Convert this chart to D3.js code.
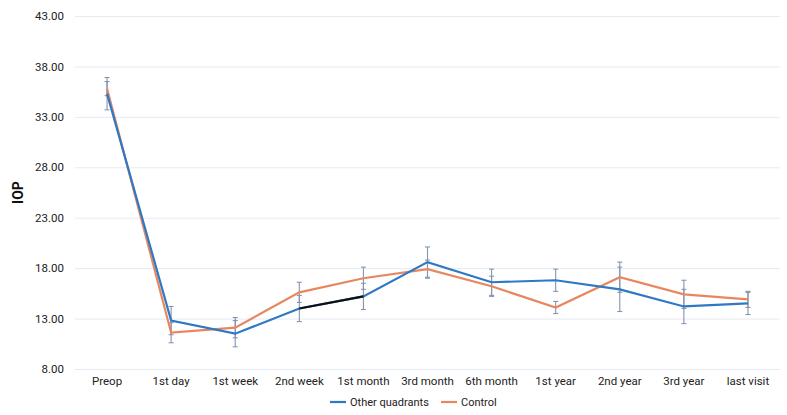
<!DOCTYPE html>
<html>
<head>
<meta charset="utf-8">
<script src="https://cdn.jsdelivr.net/npm/d3@7"></script>
<style>
  body { margin: 0; background: white; }
  text { font-family: Roboto, "Liberation Sans", sans-serif; }
</style>
</head>
<body>
<div id="chart"></div>
<script>
// data
var visits = ['Preop', '1st day', '1st week', '2nd week', '1st month', '3rd month',
  '6th month', '1st year', '2nd year', '3rd year', 'last visit'];
var otherQuadrants = [35.3, 12.8, 11.5, 14.0, 15.2, 18.6, 16.6, 16.8, 15.9, 14.2, 14.5];
var control = [35.8, 11.6, 12.1, 15.6, 17.0, 17.9, 16.2, 14.1, 17.1, 15.4, 14.9];
var otherErr = [1.6, 1.4, 1.3, 1.3, 1.3, 1.5, 1.3, 1.1, 2.2, 1.7, 1.1];
var controlErr = [0.7, 1.0, 1.0, 1.0, 1.1, 0.9, 1.0, 0.6, 1.5, 1.4, 0.8];
var yTicks = [8, 13, 18, 23, 28, 33, 38, 43];

var w = 787;
var h = 415;
var margin = {top: 16, right: 7, bottom: 46, left: 75};

var svg = d3.select('#chart')
  .append('svg')
  .attr('width', w)
  .attr('height', h);

var x = d3.scaleBand()
  .domain(visits)
  .range([margin.left, w - margin.right]);

var y = d3.scaleLinear()
  .domain([8, 43])
  .range([h - margin.bottom, margin.top]);

// gridlines + y labels
var yAxis = svg.append('g')
  .attr('transform', 'translate(' + margin.left + ',0)')
  .call(d3.axisLeft(y).tickValues(yTicks).tickFormat(d3.format('.2f'))
    .tickSize(-(w - margin.left - margin.right)).tickPadding(11));
yAxis.select('.domain').remove();
yAxis.selectAll('line').attr('stroke', '#e6eaf3');
yAxis.selectAll('text').attr('font-size', '11.5px').attr('fill', '#222');

// x labels
var xAxis = svg.append('g')
  .attr('transform', 'translate(0,' + (h - margin.bottom) + ')')
  .call(d3.axisBottom(x).tickSize(0).tickPadding(8));
xAxis.select('.domain').remove();
xAxis.selectAll('text').attr('font-size', '11.5px').attr('fill', '#222');

svg.append('text')
  .attr('transform', 'translate(23,' + y(25.5) + ') rotate(-90)')
  .attr('text-anchor', 'middle')
  .attr('font-size', '14px')
  .attr('font-weight', 'bold')
  .attr('fill', '#111')
  .text('IOP');

var cx = function(i) { return x(visits[i]) + x.bandwidth() / 2; };

// error bars
var errColor = '#8494b4';
function errorBars(vals, errs) {
  var g = svg.append('g').attr('stroke', errColor).attr('stroke-width', 1.1);
  vals.forEach(function(v, i) {
    g.append('line').attr('x1', cx(i)).attr('x2', cx(i))
      .attr('y1', y(v - errs[i])).attr('y2', y(v + errs[i]));
    [v - errs[i], v + errs[i]].forEach(function(e) {
      g.append('line').attr('x1', cx(i) - 2.5).attr('x2', cx(i) + 2.5)
        .attr('y1', y(e)).attr('y2', y(e));
    });
  });
}
errorBars(otherQuadrants, otherErr);
errorBars(control, controlErr);

var line = d3.line()
  .x(function(d, i) { return cx(i); })
  .y(function(d) { return y(d); });

svg.append('path')
  .datum(control)
  .attr('fill', 'none')
  .attr('stroke', '#e8875f')
  .attr('stroke-width', 2.2)
  .attr('d', line);

svg.append('path')
  .datum(otherQuadrants)
  .attr('fill', 'none')
  .attr('stroke', '#2f78c4')
  .attr('stroke-width', 2.2)
  .attr('d', line);

// the dark segment between 2nd week and 1st month in the original
svg.append('line')
  .attr('x1', cx(3)).attr('y1', y(otherQuadrants[3]))
  .attr('x2', cx(4)).attr('y2', y(otherQuadrants[4]))
  .attr('stroke', '#111')
  .attr('stroke-width', 2.2);

// legend
var legend = [{name: 'Other quadrants', color: '#2f78c4'}, {name: 'Control', color: '#e8875f'}];
var lx = [330, 441];
legend.forEach(function(d, i) {
  svg.append('line')
    .attr('x1', lx[i]).attr('x2', lx[i] + 16)
    .attr('y1', 402).attr('y2', 402)
    .attr('stroke', d.color).attr('stroke-width', 2.2);
  svg.append('text')
    .attr('x', lx[i] + 20).attr('y', 406)
    .attr('font-size', '11px')
    .attr('fill', '#222')
    .text(d.name);
});
</script>
</body>
</html>
